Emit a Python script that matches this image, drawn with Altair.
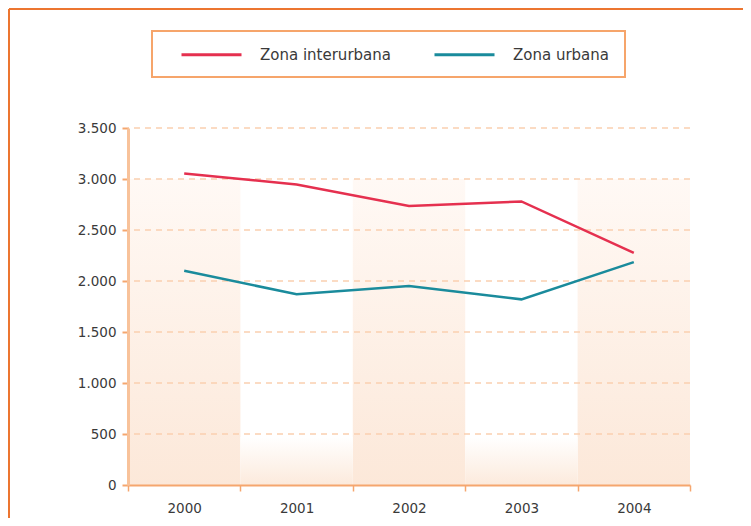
import altair as alt
import pandas as pd

years = ["2000", "2001", "2002", "2003", "2004"]
interurbana = [3055, 2945, 2735, 2780, 2275]
urbana = [2100, 1870, 1950, 1820, 2185]
series_names = ["Zona interurbana", "Zona urbana"]
series_colors = ["#E5304F", "#1A8B9C"]
shaded_years = ["2000", "2002", "2004"]
plain_years = ["2001", "2003"]
y_ticks = [0, 500, 1000, 1500, 2000, 2500, 3000, 3500]

rows = []
for name, vals in zip(series_names, [interurbana, urbana]):
    for yr, v in zip(years, vals):
        rows.append({"year": yr, "value": v, "serie": name})
df = pd.DataFrame(rows)

W, H = 562, 357
PADL, PADT, PADR, PADB = 120, 120, 53, 33

xscale = alt.Scale(domain=years, paddingInner=0, paddingOuter=0)
yscale = alt.Scale(domain=[0, 3500], nice=False)

x_axis = alt.Axis(title=None, labelAngle=0, tickBand="extent",
                  domainColor="#F5A66E", domainWidth=2,
                  tickColor="#F5A66E", tickWidth=1.5, tickSize=6,
                  labelPadding=10, labelFontSize=13.5,
                  labelFont="DejaVu Sans", labelColor="#3a3a3a",
                  grid=False, zindex=1)
y_axis = alt.Axis(title=None, values=y_ticks,
                  labelExpr="replace(format(datum.value, ','), ',', '.')",
                  domainColor="#F8C29A", domainWidth=3,
                  tickColor="#F5A66E", tickWidth=2, tickSize=6,
                  labelPadding=6, labelFontSize=13.5,
                  labelFont="DejaVu Sans", labelColor="#3a3a3a",
                  grid=False, zindex=1)

x_enc = alt.X("year:N", scale=xscale, sort=years, axis=x_axis)

shade = alt.Chart(pd.DataFrame({"year": shaded_years})).mark_rect(
    fill=alt.Gradient(gradient="linear",
                      stops=[alt.GradientStop(color="#FFF9F5", offset=0),
                             alt.GradientStop(color="#FCE8D9", offset=1)],
                      x1=0, x2=0, y1=0, y2=1)
).encode(
    x=x_enc,
    y=alt.Y("top:Q", scale=yscale, axis=y_axis),
    y2="bottom:Q",
).transform_calculate(top="3000", bottom="0")

plain = alt.Chart(pd.DataFrame({"year": plain_years})).mark_rect(
    fill=alt.Gradient(gradient="linear",
                      stops=[alt.GradientStop(color="#FFFFFF", offset=0),
                             alt.GradientStop(color="#FCEADC", offset=1)],
                      x1=0, x2=0, y1=0, y2=1)
).encode(
    x=x_enc,
    y=alt.Y("top:Q", scale=yscale, axis=y_axis),
    y2="bottom:Q",
).transform_calculate(top="470", bottom="0")

grid = alt.Chart(pd.DataFrame({"v": y_ticks[1:]})).mark_rule(
    color="#FAD0B0", strokeDash=[6, 5], strokeWidth=1.5
).encode(y=alt.Y("v:Q", scale=yscale, axis=y_axis))

lines = alt.Chart(df).mark_line(strokeWidth=2.5).encode(
    x=x_enc,
    y=alt.Y("value:Q", scale=yscale, axis=y_axis),
    color=alt.Color("serie:N",
                    scale=alt.Scale(domain=series_names, range=series_colors),
                    legend=alt.Legend(title=None, orient="none",
                                      legendX=52, legendY=-105,
                                      direction="horizontal",
                                      symbolType="stroke", symbolSize=3600,
                                      symbolStrokeWidth=3,
                                      labelFontSize=15, labelFont="DejaVu Sans",
                                      labelColor="#3a3a3a", labelOffset=17,
                                      columnPadding=37, padding=0)),
)

one = pd.DataFrame({"a": [0]})
legend_box = alt.Chart(one).mark_rect(
    fill="white", stroke="#F6A56B", strokeWidth=2
).encode(
    x=alt.value(24), x2=alt.value(497),
    y=alt.value(-97), y2=alt.value(-51),
)
frame_top = alt.Chart(one).mark_rule(color="#EC7530", strokeWidth=2).encode(
    x=alt.value(-119), x2=alt.value(W + PADR), y=alt.value(-119))
frame_left = alt.Chart(one).mark_rule(color="#EC7530", strokeWidth=2).encode(
    x=alt.value(-119), y=alt.value(-119), y2=alt.value(H + PADB))

chart = alt.layer(frame_top, frame_left, legend_box, shade, plain, grid, lines).properties(
    width=W, height=H,
    autosize=alt.AutoSizeParams(type="none"),
    padding={"left": PADL, "top": PADT, "right": PADR, "bottom": PADB},
    background="white",
).configure_view(stroke=None)

chart.save("out.html", embed_options={"renderer": "svg", "actions": False})
